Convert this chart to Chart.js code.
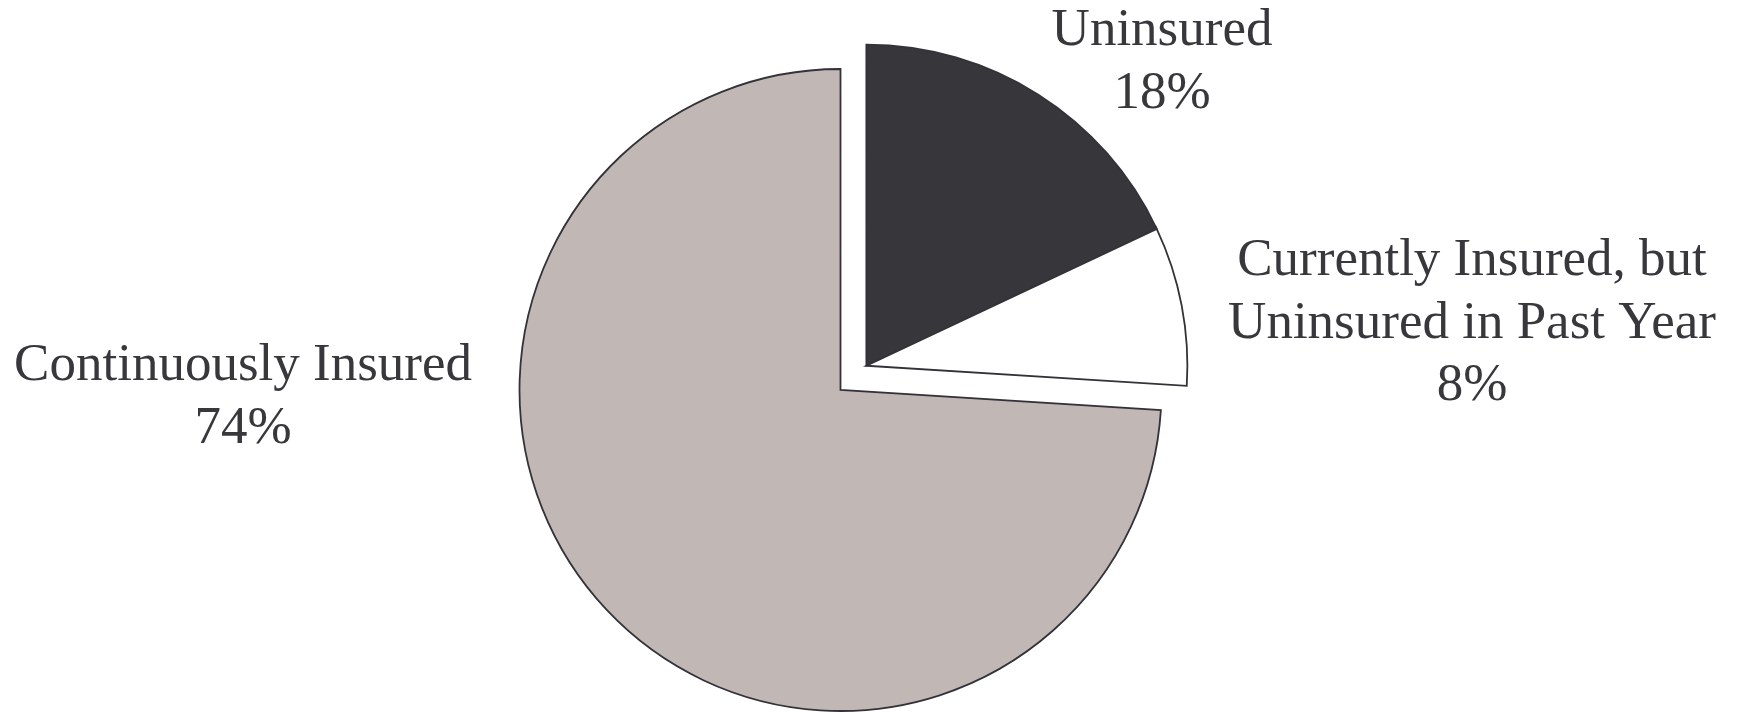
<!DOCTYPE html>
<html>
<head>
<meta charset="utf-8">
<script src="https://cdn.jsdelivr.net/npm/chart.js@4/dist/chart.umd.min.js"></script>
<style>
  html, body { margin: 0; padding: 0; background: #ffffff; }
  #wrap { width: 1745px; height: 712px; }
</style>
</head>
<body>
<div id="wrap"><canvas id="c" width="1745" height="712"></canvas></div>
<script>
// ---- data ----
const categories = ['Uninsured', 'Currently Insured, but\nUninsured in Past Year', 'Continuously Insured'];
const shares = [18, 8, 74];
const percentLabels = ['18%', '8%', '74%'];
const explodedSlices = [0, 1];

// ---- styling ----
const sliceColors = ['#37363b', '#ffffff', '#c1b8b6'];
const textColor = '#38373c';
const fontFamily = '"Liberation Serif", "Times New Roman", serif';

// label placement (center x, first baseline y)
const labelLayout = [
  { x: 1162, y: 45 },
  { x: 1472, y: 275 },
  { x: 243, y: 380 }
];

const explodePlugin = {
  id: 'explodeGroup',
  afterDatasetsUpdate(chart, args, opts) {
    const meta = chart.getDatasetMeta(0);
    let start = Infinity, end = -Infinity;
    opts.indices.forEach(i => {
      const a = meta.data[i];
      start = Math.min(start, a.startAngle);
      end = Math.max(end, a.endAngle);
    });
    const mid = (start + end) / 2;
    const dx = Math.cos(mid) * opts.distance;
    const dy = Math.sin(mid) * opts.distance;
    opts.indices.forEach(i => {
      const a = meta.data[i];
      a.x += dx;
      a.y += dy;
    });
  }
};

const labelPlugin = {
  id: 'sliceLabels',
  afterDraw(chart, args, opts) {
    const ctx = chart.ctx;
    ctx.save();
    ctx.fillStyle = opts.color;
    ctx.font = opts.size + 'px ' + opts.family;
    ctx.textAlign = 'center';
    ctx.textBaseline = 'alphabetic';
    categories.forEach((cat, i) => {
      const lines = cat.split('\n').concat([percentLabels[i]]);
      const pos = opts.layout[i];
      lines.forEach((ln, k) => {
        ctx.fillText(ln, pos.x, pos.y + k * opts.lineHeight);
      });
    });
    ctx.restore();
  }
};

new Chart(document.getElementById('c'), {
  type: 'pie',
  data: {
    labels: categories,
    datasets: [{
      data: shares,
      backgroundColor: sliceColors,
      borderColor: '#333238',
      borderWidth: 1.8,
      borderJoinStyle: 'miter',
      radius: 321
    }]
  },
  options: {
    responsive: false,
    animation: false,
    events: [],
    layout: { padding: { left: 0, right: 64, top: 68, bottom: 0 } },
    plugins: {
      legend: { display: false },
      tooltip: { enabled: false },
      title: { display: false },
      explodeGroup: { indices: explodedSlices, distance: 35.5 },
      sliceLabels: { layout: labelLayout, color: textColor, family: fontFamily, size: 53, lineHeight: 62.5 }
    }
  },
  plugins: [explodePlugin, labelPlugin]
});
</script>
</body>
</html>
